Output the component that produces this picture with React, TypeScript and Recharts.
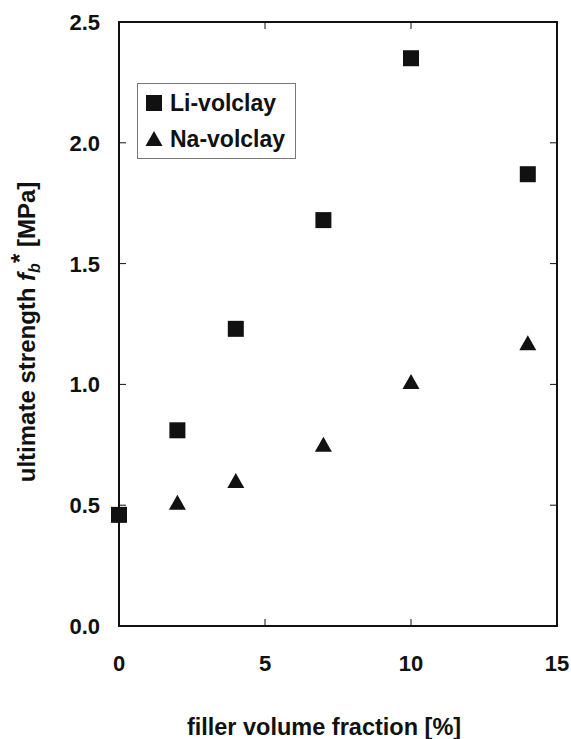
import React from "react";
import {
  ScatterChart, Scatter, XAxis, YAxis, Legend, ReferenceArea, Label,
} from "recharts";

const LI_FRACTION = [0, 2, 4, 7, 10, 14];
const LI_STRENGTH = [0.46, 0.81, 1.23, 1.68, 2.35, 1.87];
const NA_FRACTION = [2, 4, 7, 10, 14];
const NA_STRENGTH = [0.51, 0.6, 0.75, 1.01, 1.17];
const X_TICKS = [0, 5, 10, 15];
const Y_TICKS = [0, 0.5, 1.0, 1.5, 2.0, 2.5];

const liData = LI_FRACTION.map((x, i) => ({ x, y: LI_STRENGTH[i] }));
const naData = NA_FRACTION.map((x, i) => ({ x, y: NA_STRENGTH[i] }));

const W = 571;
const H = 739;
const PLOT_TOP = 22;
const PLOT_RIGHT = 557;
const FONT = "'Liberation Sans', Arial, Helvetica, sans-serif";
const INK = "#111";

const Square = ({ cx, cy }: any) => (
  <rect x={cx - 8} y={cy - 8} width={16} height={16} fill={INK} />
);
const Triangle = ({ cx, cy }: any) => (
  <polygon points={`${cx},${cy - 8} ${cx + 8.5},${cy + 7} ${cx - 8.5},${cy + 7}`} fill={INK} />
);

const XTick = ({ x, y, payload }: any) => {
  const v = payload.value;
  const inner = v !== X_TICKS[0] && v !== X_TICKS[X_TICKS.length - 1];
  return (
    <g>
      {inner && <line x1={x} x2={x} y1={y} y2={y - 7} stroke={INK} strokeWidth={1} />}
      {inner && <line x1={x} x2={x} y1={PLOT_TOP} y2={PLOT_TOP + 7} stroke={INK} strokeWidth={1} />}
      <text x={x} y={y + 45} textAnchor="middle" fontFamily={FONT} fontWeight="bold" fontSize={22} fill={INK}>
        {v}
      </text>
    </g>
  );
};

const YTick = ({ x, y, payload }: any) => {
  const v = payload.value;
  const inner = v !== Y_TICKS[0] && v !== Y_TICKS[Y_TICKS.length - 1];
  return (
    <g>
      {inner && <line x1={x} x2={x + 7} y1={y} y2={y} stroke={INK} strokeWidth={1} />}
      {inner && <line x1={PLOT_RIGHT - 7} x2={PLOT_RIGHT} y1={y} y2={y} stroke={INK} strokeWidth={1} />}
      <text x={x - 19} y={y + 8} textAnchor="end" fontFamily={FONT} fontWeight="bold" fontSize={22} fill={INK}>
        {v.toFixed(1)}
      </text>
    </g>
  );
};

const YTitle = () => (
  <text
    transform="translate(35, 332) rotate(-90)"
    textAnchor="middle"
    fontFamily={FONT}
    fontWeight="bold"
    fontSize={24}
    fill={INK}
  >
    ultimate strength <tspan fontStyle="italic">f</tspan>
    <tspan fontStyle="italic" fontSize={16} dy={5}>b</tspan>
    <tspan dy={-12}>*</tspan>
    <tspan dy={7}>{"  [MPa]"}</tspan>
  </text>
);

const LegendBox = ({ payload }: any) => (
  <div
    style={{
      width: 157, height: 74, border: "1px solid #777", background: "#fff",
      fontFamily: FONT, fontWeight: "bold", fontSize: 23, color: INK,
      display: "flex", flexDirection: "column", justifyContent: "center", gap: 10,
      boxSizing: "content-box",
    }}
  >
    {(payload || []).map((p: any) => (
      <div key={p.value} style={{ display: "flex", alignItems: "center", height: 26 }}>
        <svg width={30} height={20} style={{ marginLeft: 6 }}>
          {p.value === "Li-volclay"
            ? <rect x={2} y={2} width={16} height={16} fill={INK} />
            : <polygon points="10,2 18.5,17 1.5,17" fill={INK} />}
        </svg>
        <span style={{ marginLeft: -4 }}>{p.value}</span>
      </div>
    ))}
  </div>
);

export default function App() {
  return (
    <div style={{ position: "absolute", left: 0, top: 0, background: "#fff" }}>
      <ScatterChart
        width={W}
        height={H}
        margin={{ top: PLOT_TOP, right: W - PLOT_RIGHT, bottom: 739 - 626 - 60, left: 119 - 80 }}
      >
        <XAxis
          type="number"
          dataKey="x"
          domain={[0, 15]}
          ticks={X_TICKS}
          height={60}
          axisLine={false}
          tickLine={false}
          tickSize={0}
          tickMargin={0}
          tick={<XTick />}
          interval={0}
        >
          <Label
            content={() => (
              <text x={324} y={735} textAnchor="middle" fontFamily={FONT} fontWeight="bold" fontSize={23.5} fill={INK}>
                filler volume fraction [%]
              </text>
            )}
          />
        </XAxis>
        <YAxis
          type="number"
          dataKey="y"
          domain={[0, 2.5]}
          ticks={Y_TICKS}
          width={80}
          axisLine={false}
          tickLine={false}
          tickSize={0}
          tickMargin={0}
          tick={<YTick />}
          interval={0}
        >
          <Label content={() => <YTitle />} />
        </YAxis>
        <ReferenceArea x1={0} x2={15} y1={0} y2={2.5} fill="none" stroke={INK} strokeWidth={2} />
        <Legend
          layout="vertical"
          align="center"
          verticalAlign="middle"
          content={<LegendBox />}
          wrapperStyle={{ left: 137, top: 83, width: 159, height: 76 }}
        />
        <Scatter name="Li-volclay" data={liData} fill={INK} shape={Square} isAnimationActive={false} />
        <Scatter name="Na-volclay" data={naData} fill={INK} shape={Triangle} isAnimationActive={false} />
      </ScatterChart>
    </div>
  );
}
